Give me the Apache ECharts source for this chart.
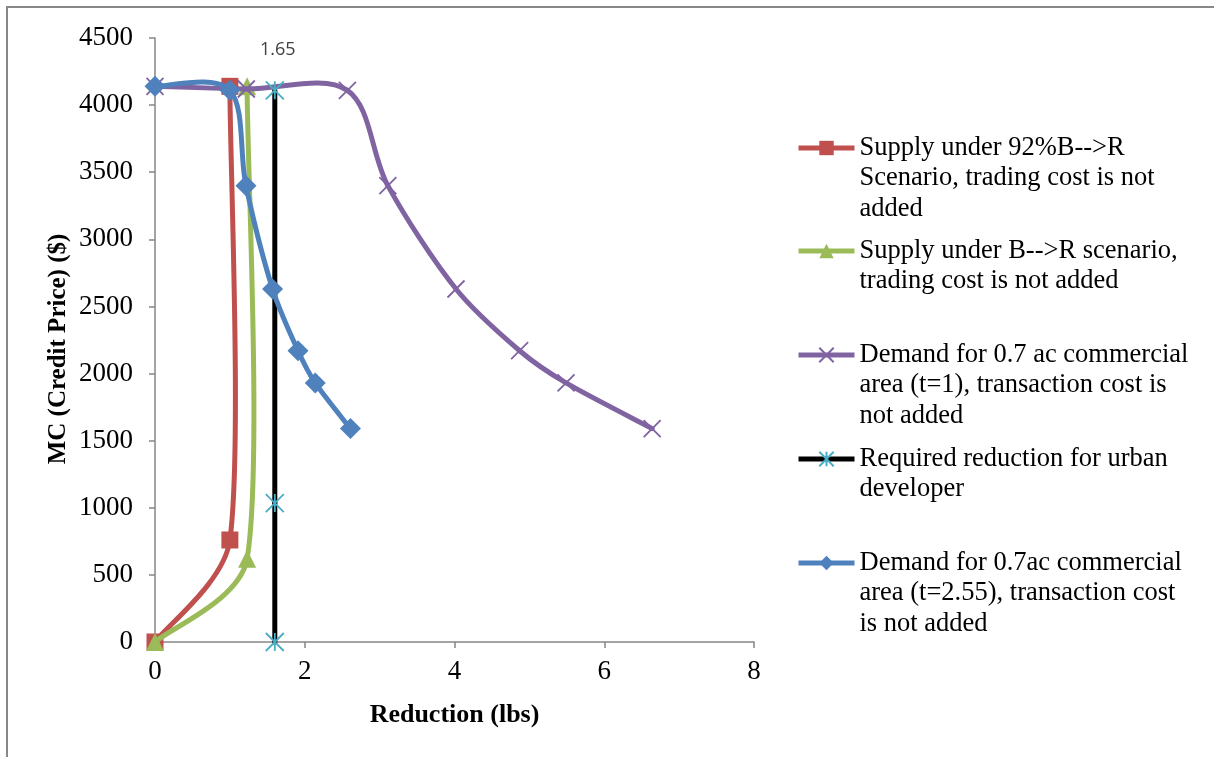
<!DOCTYPE html>
<html>
<head>
<meta charset="utf-8">
<script src="https://cdn.jsdelivr.net/npm/echarts@6/dist/echarts.min.js"></script>
<style>
html,body{margin:0;padding:0;background:#fff;}
#chart{width:1214px;height:757px;}
</style>
</head>
<body>
<div id="chart"></div>
<script>
// ---- Data ----
const seriesNames = [
  'Supply under 92%B-->R\nScenario, trading cost is not\nadded',
  'Supply under B-->R scenario,\ntrading cost is not added',
  'Demand for 0.7 ac commercial\narea (t=1), transaction cost is\nnot added',
  'Required reduction for urban\ndeveloper',
  'Demand for 0.7ac commercial\narea (t=2.55), transaction cost\nis not added'
];
const supply92X = [0, 1.0, 1.0];
const supply92Y = [0, 760, 4140];
const supplyBRX = [0, 1.23, 1.23];
const supplyBRY = [0, 620, 4140];
const demandT1X = [0, 1.22, 2.57, 3.11, 4.02, 4.87, 5.49, 6.64];
const demandT1Y = [4140, 4120, 4110, 3400, 2630, 2170, 1930, 1590];
const requiredX = [1.6, 1.6, 1.6];
const requiredY = [0, 1035, 4110];
const requiredLabel = '1.65';
const demandT255X = [0, 1.0, 1.215, 1.57, 1.91, 2.14, 2.61];
const demandT255Y = [4140, 4110, 3400, 2630, 2170, 1930, 1590];
const xTicks = [0, 8, 2];      // min, max, interval
const yTicks = [0, 4500, 500]; // min, max, interval

function pairs(xs, ys){ return xs.map((x,i)=>[x, ys[i]]); }

const serif = '"Liberation Serif","Times New Roman",serif';
const xPath = 'path://M0,0L10,10M10,0L0,10';
const starPath = 'path://M0,0L10,10M10,0L0,10M5,0L5,10';
const colors = ['#C0504D','#9BBB59','#8064A2','#000000','#4F81BD'];
const LW = 5;

const curves = [
  {xs: supply92X, ys: supply92Y, smooth: true},
  {xs: supplyBRX, ys: supplyBRY, smooth: true},
  {xs: demandT1X, ys: demandT1Y, smooth: true},
  {xs: requiredX, ys: requiredY, smooth: false},
  {xs: demandT255X, ys: demandT255Y, smooth: true}
];

function arm(a, b, segLen){
  // Catmull-Rom tangent arm, limited to a third of the segment length
  let vx = (b[0] - a[0]) / 6, vy = (b[1] - a[1]) / 6;
  const len = Math.hypot(vx, vy), lim = segLen / 3;
  if (len > lim && len > 0) { vx *= lim / len; vy *= lim / len; }
  return [vx, vy];
}

// Excel-like smoothed line drawn through the axis scales
function curveSeries(i){
  const c = curves[i];
  return {
    type: 'custom',
    name: '__curve' + i,
    coordinateSystem: 'cartesian2d',
    data: [[c.xs[0], c.ys[0]]],
    z: 2 + 2 * i,
    silent: true,
    clip: false,
    animation: false,
    renderItem: function(params, api){
      const p = c.xs.map((x, k) => api.coord([x, c.ys[k]]));
      const children = [];
      const n = p.length;
      for (let k = 0; k < n - 1; k++) {
        const p0 = p[Math.max(k - 1, 0)], p1 = p[k], p2 = p[k + 1], p3 = p[Math.min(k + 2, n - 1)];
        let cp1 = p1, cp2 = p2;
        if (c.smooth) {
          const L = Math.hypot(p2[0] - p1[0], p2[1] - p1[1]);
          const a1 = arm(p0, p2, L), a2 = arm(p1, p3, L);
          cp1 = [p1[0] + a1[0], p1[1] + a1[1]];
          cp2 = [p2[0] - a2[0], p2[1] - a2[1]];
        }
        children.push({
          type: 'bezierCurve',
          shape: {x1: p1[0], y1: p1[1], x2: p2[0], y2: p2[1],
                  cpx1: cp1[0], cpy1: cp1[1], cpx2: cp2[0], cpy2: cp2[1]},
          style: {stroke: colors[i], lineWidth: LW, fill: null, lineCap: 'round'}
        });
      }
      return {type: 'group', children: children};
    }
  };
}

function markerSeries(i, data, symbol, size, itemStyle){
  return {
    name: seriesNames[i],
    type: 'line',
    data: data,
    symbol: symbol,
    symbolSize: size,
    showAllSymbol: true,
    lineStyle: {color: colors[i], width: LW, opacity: 0},
    itemStyle: itemStyle || {color: colors[i], borderWidth: 0},
    z: 3 + 2 * i,
    animation: false
  };
}

const series = [
  curveSeries(0), markerSeries(0, pairs(supply92X, supply92Y), 'rect', 17),
  curveSeries(1), markerSeries(1, pairs(supplyBRX, supplyBRY), 'triangle', 18),
  curveSeries(2), markerSeries(2, pairs(demandT1X, demandT1Y), xPath, 17,
    {color: 'none', borderColor: colors[2], borderWidth: 1.8}),
  curveSeries(3), markerSeries(3, pairs(requiredX, requiredY).map((p, k) => k === 2 ? {
      value: p,
      label: {show: true, formatter: requiredLabel, position: 'top', distance: 20, offset: [3, 0],
        fontFamily: '"Open Sans","Liberation Sans",sans-serif', fontSize: 18, color: '#404040'}
    } : p), starPath, 18,
    {color: 'none', borderColor: '#4BACC6', borderWidth: 1.8}),
  curveSeries(4), markerSeries(4, pairs(demandT255X, demandT255Y), 'diamond', 21)
];

// Legend: one component per entry; first text line aligned with the symbol
const lineH = 30.5;
const symbolCenters = [148, 251, 355, 459, 563];
const legends = seriesNames.map((name, i) => {
  const nLines = name.split('\n').length;
  const h = (2 * nLines - 1) * lineH;
  return {
    show: true,
    data: [{name: name, lineStyle: {color: colors[i], width: LW, opacity: 1}}],
    left: 796,
    top: symbolCenters[i] - h / 2,
    orient: 'vertical',
    padding: 0,
    itemWidth: 56,
    itemHeight: 18,
    itemGap: 0,
    selectedMode: false,
    formatter: function(n){ return ' \n'.repeat(nLines - 1) + n; },
    textStyle: {fontFamily: serif, fontSize: 26.5, color: '#000', lineHeight: lineH}
  };
});

const chart = echarts.init(document.getElementById('chart'), null, {renderer: 'canvas'});
chart.setOption({
  backgroundColor: '#fff',
  animation: false,
  grid: {left: 155, right: 460, top: 38, bottom: 115, containLabel: false},
  xAxis: {
    type: 'value', min: xTicks[0], max: xTicks[1], interval: xTicks[2],
    name: 'Reduction (lbs)', nameLocation: 'middle', nameGap: 60,
    nameTextStyle: {fontFamily: serif, fontSize: 26, fontWeight: 'bold', color: '#000'},
    axisLine: {show: true, lineStyle: {color: '#868686', width: 1.5}},
    axisTick: {show: true, length: 6, lineStyle: {color: '#868686', width: 1.5}},
    axisLabel: {fontFamily: serif, fontSize: 27, color: '#000', margin: 16},
    splitLine: {show: false}
  },
  yAxis: {
    type: 'value', min: yTicks[0], max: yTicks[1], interval: yTicks[2],
    name: 'MC (Credit Price) ($)', nameLocation: 'middle', nameGap: 84, nameRotate: 90,
    nameTextStyle: {fontFamily: serif, fontSize: 25, fontWeight: 'bold', color: '#000', padding: [0, 18, 0, 0]},
    axisLine: {show: true, lineStyle: {color: '#868686', width: 1.5}},
    axisTick: {show: true, length: 6, lineStyle: {color: '#868686', width: 1.5}},
    axisLabel: {fontFamily: serif, fontSize: 27, color: '#000', margin: 22,
      formatter: function(v){ return String(v); }},
    splitLine: {show: false}
  },
  legend: legends,
  series: series,
  graphic: [{
    type: 'polyline',
    shape: {points: [[7, 1000], [7, 7], [1300, 7]]},
    style: {stroke: '#878787', lineWidth: 2, fill: null},
    silent: true
  }]
});
</script>
</body>
</html>
